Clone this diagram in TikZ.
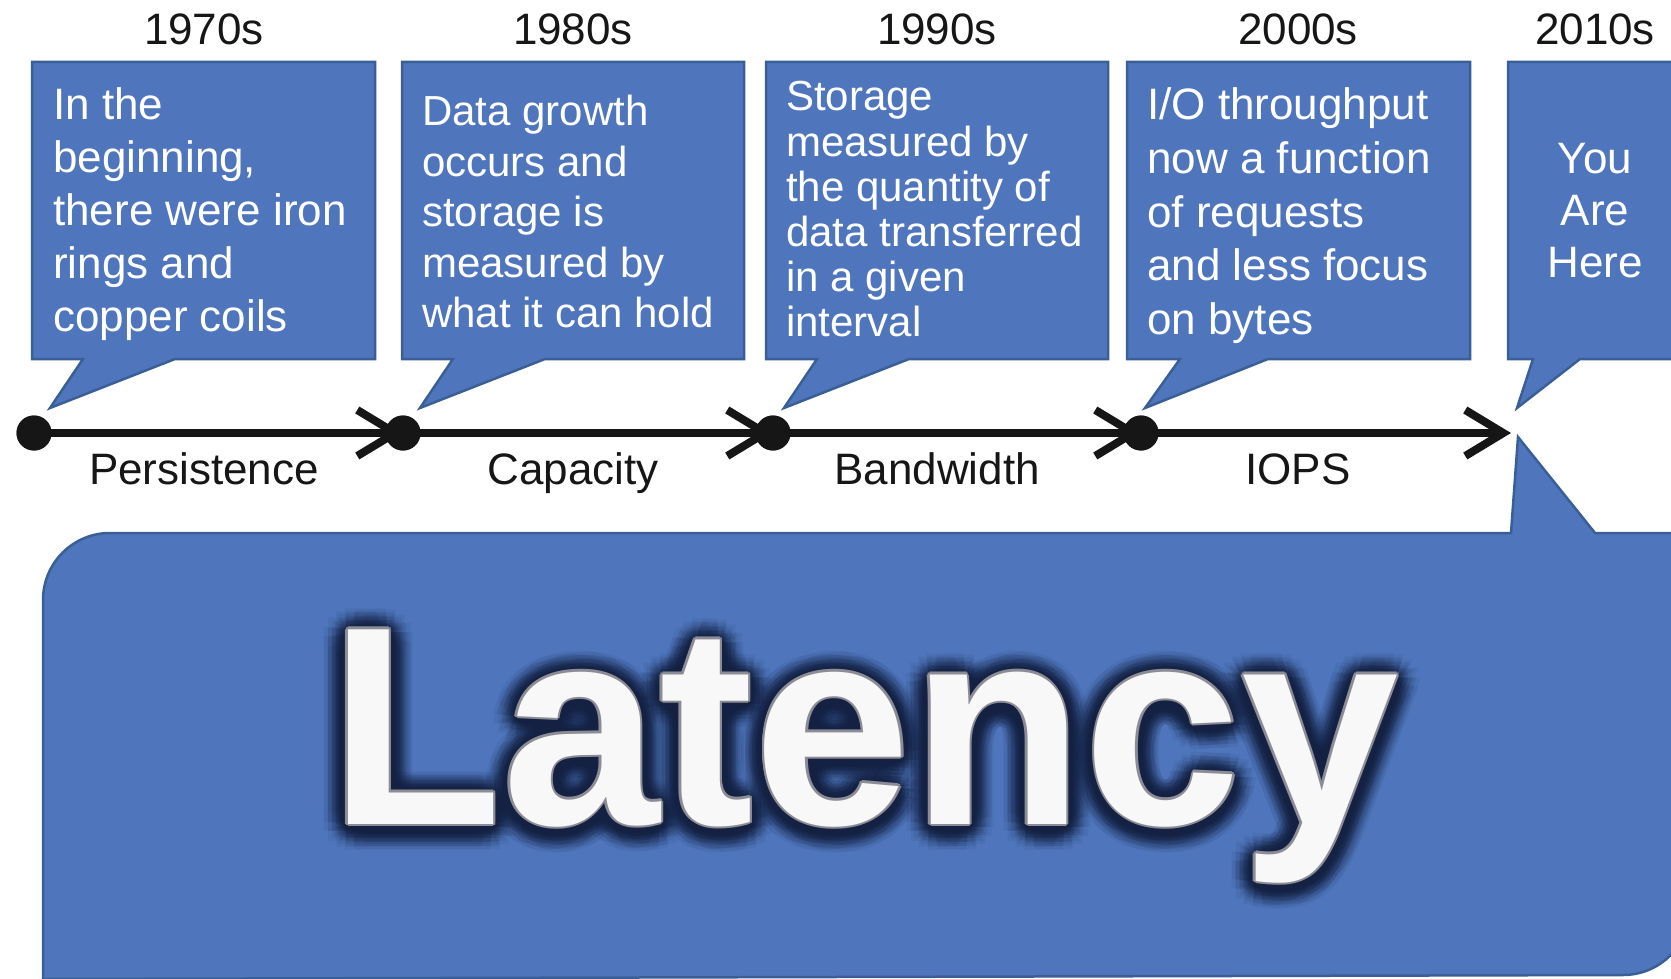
\documentclass[tikz,border=0pt]{standalone}
\usepackage{fontspec}
\setmainfont{Liberation Sans}
\usetikzlibrary{arrows.meta}
\definecolor{calloutfill}{RGB}{79,118,189}
\definecolor{calloutedge}{RGB}{58,94,150}
\definecolor{glow}{RGB}{20,33,66}
\definecolor{rim}{RGB}{140,140,150}
\definecolor{ink}{RGB}{22,22,22}
\definecolor{paper}{RGB}{248,248,248}

% speech bubble: left, top, right, bottom, tail base x1, tail base x2, tip x, tip y
\newcommand\speechbubble[8]{%
  \draw[bubble] (#1,#2) -- (#3,#2) -- (#3,#4) -- (#6,#4) -- (#7,#8) -- (#5,#4) -- (#1,#4) -- cycle;}

\begin{document}
\begin{tikzpicture}[x=1pt,y=-1pt,
  bubble/.style={fill=calloutfill, draw=calloutedge, line width=2.5pt, line join=miter},
  bubbletext/.style={text=white, inner sep=0pt, anchor=base west},
  darklabel/.style={text=ink, inner sep=0pt, anchor=base, font=\fontsize{44}{53}\selectfont},
  axisline/.style={draw=ink, line width=8pt,
    -{Straight Barb[length=38pt, width=46pt, line width=8pt]}},
  stop/.style={circle, fill=ink, minimum size=35pt, inner sep=0pt},
  bigword/.style={inner sep=0pt, anchor=base, font=\fontsize{283}{300}\selectfont\bfseries}]

\useasboundingbox (0,0) rectangle (1671,979);
\clip (0,0) rectangle (1671,979);

% big rounded panel with its pointer up to "now"
\draw[bubble] (43,979) -- (43,600) arc[start angle=180, end angle=270, radius=67]
  -- (1511,533) -- (1518,437) -- (1595,533) -- (1690,533) -- (1690,908)
  arc[start angle=0, end angle=90, radius=67] -- cycle;

% decade bubbles
\speechbubble{32}{62}{375}{359}{83}{175}{50}{408}
\speechbubble{402}{62}{744}{359}{453}{545}{420}{408}
\speechbubble{766}{62}{1108}{359}{817}{909}{784}{408}
\speechbubble{1127}{62}{1470}{359}{1180}{1268}{1145}{408}
\speechbubble{1508}{62}{1720}{359}{1533}{1580}{1517}{408}

\node[bubbletext, font=\fontsize{44}{53}\selectfont] (t1) at (53,120)
  {\parbox[t]{320pt}{In the\\beginning,\\there were iron\\rings and\\copper coils}};
\node[bubbletext, font=\fontsize{42}{50.4}\selectfont] (t2) at (422,126)
  {\parbox[t]{320pt}{Data growth\\occurs and\\storage is\\measured by\\what it can hold}};
\node[bubbletext, font=\fontsize{42}{45.2}\selectfont] (t3) at (786,111)
  {\parbox[t]{320pt}{Storage\\measured by\\the quantity of\\data transferred\\in a given\\interval}};
\node[bubbletext, font=\fontsize{44}{53.6}\selectfont] (t4) at (1147,120)
  {\parbox[t]{320pt}{I/O throughput\\now a function\\of requests\\and less focus\\on bytes}};
\node[bubbletext, anchor=base, font=\fontsize{44}{51.7}\selectfont] (t5) at (1595,174)
  {\parbox[t]{200pt}{\centering You\\Are\\Here}};

% decades
\node[darklabel] (y1) at (204,45) {1970s};
\node[darklabel] (y2) at (573,45) {1980s};
\node[darklabel] (y3) at (937,45) {1990s};
\node[darklabel] (y4) at (1298,45) {2000s};
\node[darklabel] (y5) at (1595,45) {2010s};

% timeline
\node[stop] (d1) at (34,433) {};
\node[stop] (d2) at (403,433) {};
\node[stop] (d3) at (773,433) {};
\node[stop] (d4) at (1141,433) {};
\coordinate (now) at (1511,433);

\draw[axisline] (d1.center) -- (d2.center);
\draw[axisline] (d2.center) -- (d3.center);
\draw[axisline] (d3.center) -- (d4.center);
\draw[axisline] (d4.center) -- (now);
\node[stop] at (d1) {};
\node[stop] at (d2) {};
\node[stop] at (d3) {};
\node[stop] at (d4) {};

\node[darklabel] (p1) at (204,484) {Persistence};
\node[darklabel] (p2) at (573,484) {Capacity};
\node[darklabel] (p3) at (937,484) {Bandwidth};
\node[darklabel] (p4) at (1298,484) {IOPS};

% headline word: soft dark glow, thin grey rim, white face
\foreach \r/\o in {24/0.07,20/0.09,16/0.12,12/0.16,8/0.22,4/0.35}
  \foreach \a in {0,24,...,336}
    \node[bigword, text=glow, text opacity=\o] (glow-\r-\a) at ([shift={(\a:\r)}]864,827) {Latency};
\foreach \a in {0,45,...,315}
  \node[bigword, text=rim] (rim-\a) at ([shift={(\a:2.5)}]864,824) {Latency};
\node[bigword, text=paper] (word) at (864,824) {Latency};

\end{tikzpicture}
\end{document}
